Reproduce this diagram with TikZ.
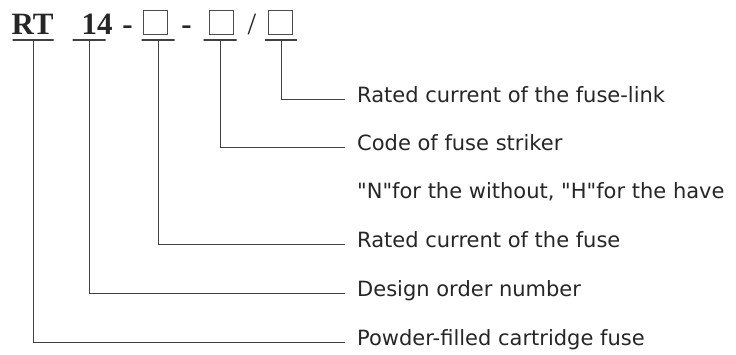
\documentclass[tikz,border=0pt]{standalone}
\usepackage{fontspec}
\setmainfont{Liberation Serif}
\newfontfamily\labelfont{DejaVu Sans}
\usetikzlibrary{positioning}

\begin{document}
\begin{tikzpicture}[
  x=1pt,y=-1pt,
  code/.style={font=\bfseries\fontsize{31}{31}\selectfont,text=black!85,inner sep=0pt,anchor=base},
  slot/.style={draw=black!70,line width=1pt,minimum size=24pt,inner sep=0pt},
  uline/.style={draw=black!75,line width=1.1pt,inner sep=0pt,minimum height=0pt},
  lab/.style={font=\labelfont\fontsize{21}{21}\selectfont,text=black!85,inner sep=0pt,anchor=west,text height=0.92em,text depth=0.2em},
  conn/.style={draw=black!75,line width=1pt,shorten >=12pt},
]
\useasboundingbox (0,0) rectangle (736,354);

% Type designation
\node[code] (tRT) at (32.5,34) {RT};
\node[code] (t14) at (97,34) {14};
\node[code] (d1) at (127.5,34) {-};
\node[slot] (bA) at (155,22) {};
\node[code] (d2) at (186.5,34) {-};
\node[slot] (bB) at (221.5,22) {};
\node[code,font=\fontsize{31}{31}\selectfont] (sl) at (252,34) {/};
\node[slot] (bC) at (280.5,22) {};

% Underlines
\node[uline,minimum width=41pt] (uRT) at (33,40) {};
\node[uline,minimum width=33pt] (u14) at (89,40) {};
\node[uline,minimum width=33pt] (uA) at (158,40) {};
\node[uline,minimum width=33pt] (uB) at (220,40) {};
\node[uline,minimum width=32pt] (uC) at (281,40) {};

% Labels
\node[lab] (lLink) at (357,99) {Rated current of the fuse-link};
\node[lab] (lStriker) at (357,147) {Code of fuse striker};
\node[lab] (lNote) at (357,195) {"N"for the without, "H"for the have};
\node[lab] (lFuse) at (357,244) {Rated current of the fuse};
\node[lab] (lDesign) at (357,293) {Design order number};
\node[lab] (lPowder) at (357,342) {Powder-filled cartridge fuse};

% Leaders
\draw[conn] (uC.south) |- (lLink.west);
\draw[conn] (uB.south) |- (lStriker.west);
\draw[conn] (uA.south) |- (lFuse.west);
\draw[conn] (u14.south) |- (lDesign.west);
\draw[conn] (uRT.south) |- (lPowder.west);

\end{tikzpicture}
\end{document}
